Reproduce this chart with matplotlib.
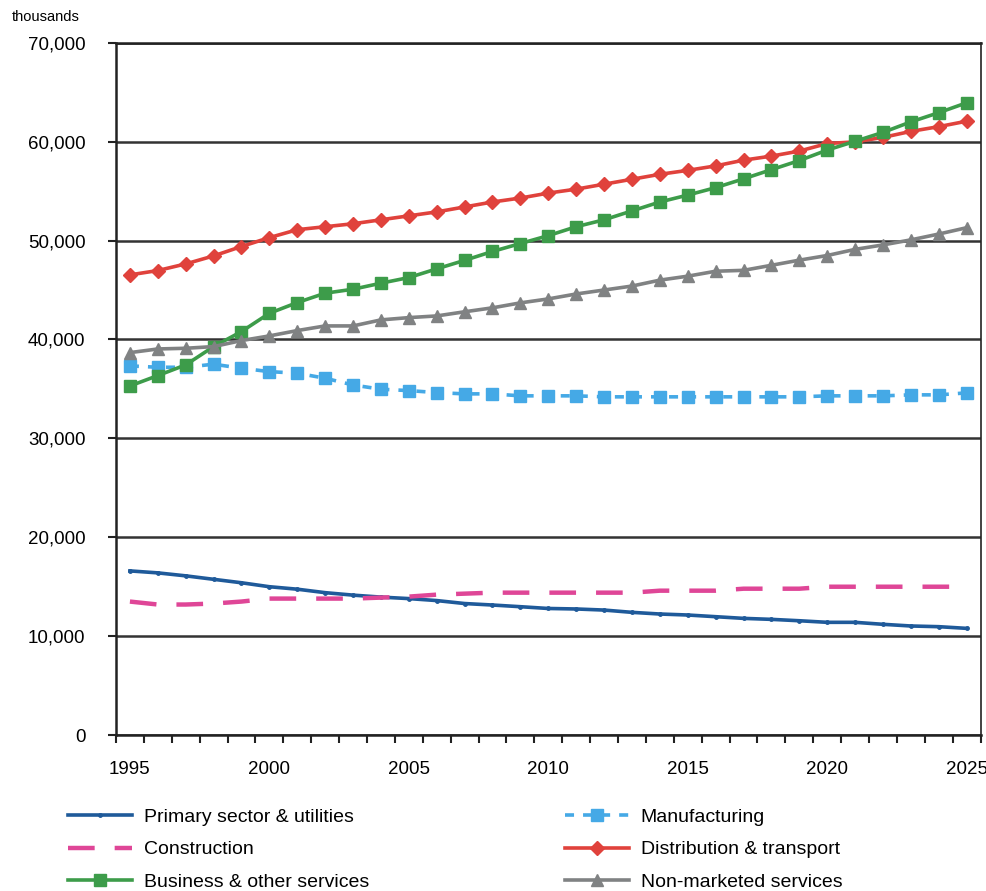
import matplotlib
matplotlib.use('Agg')
import matplotlib.pyplot as plt
from matplotlib.ticker import FuncFormatter, MultipleLocator

plt.rcParams['font.family'] = ['Liberation Sans', 'DejaVu Sans']

years = list(range(1995, 2026))

primary = [16600, 16400, 16100, 15750, 15400, 15000, 14750, 14400, 14150, 13950,
           13800, 13600, 13300, 13150, 12980, 12800, 12750, 12640, 12410, 12240,
           12140, 11970, 11800, 11700, 11560, 11400, 11400, 11200, 11030, 10960,
           10790]
manufacturing = [37330, 37190, 37190, 37500, 37090, 36750, 36590, 36080, 35400, 34970,
                 34830, 34630, 34500, 34500, 34300, 34300, 34300, 34200, 34200, 34200,
                 34200, 34200, 34200, 34200, 34200, 34300, 34300, 34300, 34400, 34400,
                 34600]
construction = [13500, 13200, 13200, 13300, 13500, 13800, 13800, 13800, 13800, 13900,
                14000, 14200, 14300, 14400, 14400, 14400, 14400, 14400, 14400, 14600,
                14600, 14600, 14800, 14800, 14800, 15000, 15000, 15000, 15000, 15000,
                15000]
distribution = [46530, 46970, 47640, 48450, 49400, 50300, 51100, 51400, 51700, 52100,
                52500, 52900, 53400, 53900, 54300, 54800, 55200, 55700, 56200, 56700,
                57100, 57550, 58130, 58540, 59050, 59810, 59980, 60430, 61040, 61520,
                62070]
business = [35300, 36350, 37430, 39280, 40800, 42650, 43730, 44680, 45080, 45690,
            46260, 47140, 48000, 48900, 49700, 50500, 51400, 52100, 53000, 53900,
            54600, 55350, 56240, 57170, 58090, 59150, 60040, 60940, 62000, 62930,
            63930]
non_marketed = [38670, 39040, 39110, 39280, 39890, 40360, 40900, 41370, 41370, 41980,
                42210, 42380, 42800, 43200, 43700, 44100, 44600, 45000, 45400, 46000,
                46400, 46900, 46990, 47500, 48020, 48490, 49110, 49560, 50070, 50660,
                51300]

fig = plt.figure(figsize=(9.87, 8.91), dpi=100)
ax = fig.add_axes([0.1175, 0.175, 0.876, 0.777])

l1, = ax.plot(years, primary, color='#1f5a9a', lw=2.6, marker='o', ms=2.5,
              label='Primary sector & utilities', zorder=4)
l2, = ax.plot(years, manufacturing, color='#45a9e6', lw=2.6, ls=(0, (2.5, 2.5)),
              marker='s', ms=8, label='Manufacturing', zorder=4)
l3, = ax.plot(years, construction, color='#df4697', lw=3.2, ls=(0, (6, 4.5)),
              label='Construction', zorder=4)
l4, = ax.plot(years, distribution, color='#e0423c', lw=2.6, marker='D', ms=7.5,
              label='Distribution & transport', zorder=4)
l5, = ax.plot(years, business, color='#3d9c4a', lw=2.6, marker='s', ms=8,
              label='Business & other services', zorder=4)
l6, = ax.plot(years, non_marketed, color='#808283', lw=2.6, marker='^', ms=9,
              label='Non-marketed services', zorder=4)

ax.set_xlim(1994.5, 2025.5)
ax.set_ylim(0, 70000)
ax.set_xticks(range(1995, 2026, 5))
ax.set_xticks([y + 0.5 for y in range(1994, 2026)], minor=True)
ax.yaxis.set_major_locator(MultipleLocator(10000))
ax.yaxis.set_major_formatter(FuncFormatter(lambda v, p: f'{int(v):,}'))

ax.grid(axis='y', color='#333333', lw=1.8)
ax.set_axisbelow(True)
for side in ['left', 'bottom', 'right', 'top']:
    ax.spines[side].set_color('#222222')
    ax.spines[side].set_linewidth(1.8)
ax.spines['right'].set_linewidth(1.2)

ax.tick_params(axis='y', which='major', direction='out', length=6, width=1.5,
               labelsize=13.5, pad=16, color='#222222')
ax.tick_params(axis='x', which='major', length=0, labelsize=13.5, pad=19)
ax.tick_params(axis='x', which='minor', direction='out', length=6, width=1.5,
               color='#222222')

fig.text(12 / 987, 1 - 17 / 891, 'thousands', fontsize=10.5, va='center', ha='left')

leg_kw = dict(frameon=False, fontsize=14, handlelength=3.3, handletextpad=0.6,
              labelspacing=0.78, borderpad=0, borderaxespad=0, loc='upper left')
fig.legend(handles=[l1, l3, l5], bbox_to_anchor=(68 / 987, 1 - 808 / 891), **leg_kw)
fig.legend(handles=[l2, l4, l6], bbox_to_anchor=(565 / 987, 1 - 808 / 891), **leg_kw)

fig.savefig('out.png', dpi=100)
